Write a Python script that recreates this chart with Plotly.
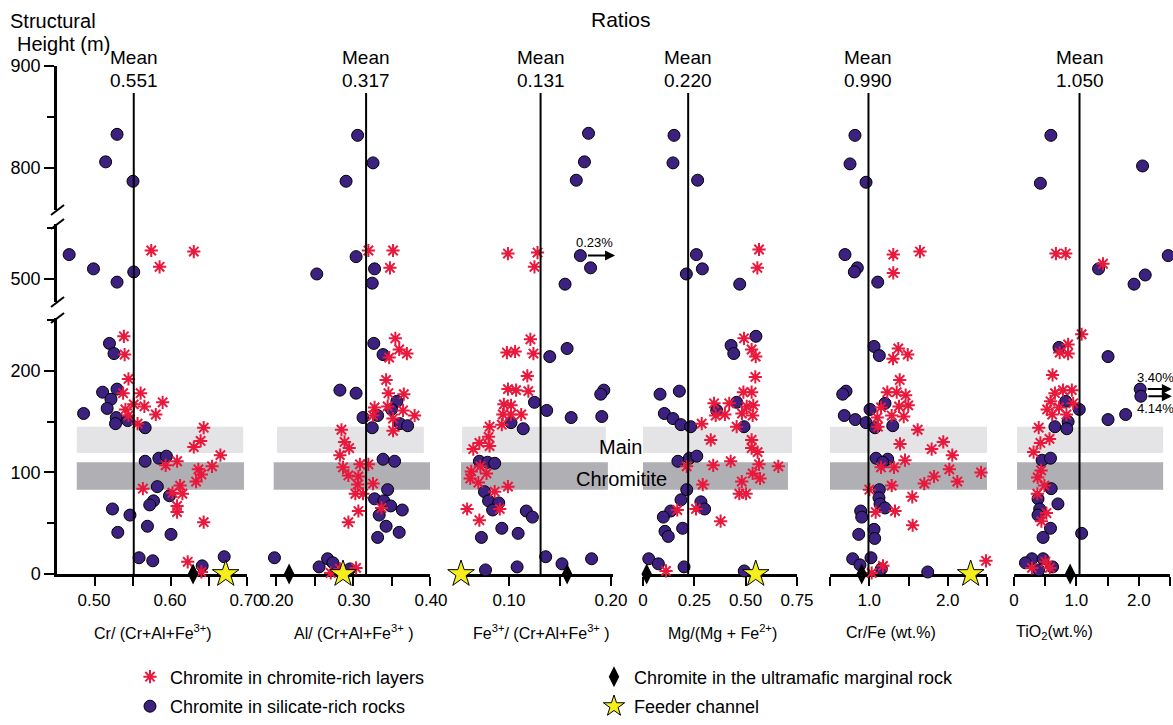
import plotly.graph_objects as go

W, H = 1173, 725
FONT = "Liberation Sans, Arial, Helvetica, sans-serif"
RED = "#e8193c"
PURPLE = "#3c2180"
LIGHT_BAND = "#e4e4e6"
DARK_BAND = "#b0afb4"

# ------------------------------------------------------------------ data
x_titles = ["Cr/ (Cr+Al+Fe<sup>3+</sup>)", "Al/ (Cr+Al+Fe<sup>3+</sup> )",
            "Fe<sup>3+</sup>/ (Cr+Al+Fe<sup>3+</sup> )", "Mg/(Mg + Fe<sup>2+</sup>)",
            "Cr/Fe (wt.%)", "TiO<sub>2</sub>(wt.%)"]
mean_values = [0.551, 0.317, 0.131, 0.220, 0.990, 1.050]
mean_labels = ["0.551", "0.317", "0.131", "0.220", "0.990", "1.050"]

x_tickvals = [[0.50, 0.60, 0.70], [0.20, 0.30, 0.40], [0.10, 0.20], [0, 0.25, 0.50, 0.75],
              [1.0, 2.0], [0, 1.0, 2.0]]
x_ticktext = [["0.50", "0.60", "0.70"], ["0.20", "0.30", "0.40"], ["0.10", "0.20"],
              ["0", "0.25", "0.50", "0.75"], ["1.0", "2.0"], ["0", "1.0", "2.0"]]
x_minorvals = [[0.55, 0.65], [0.25, 0.35], [0.15], [], [0.5, 1.5, 2.5], [0.5, 1.5, 2.5]]

# Panel 1  Cr/(Cr+Al+Fe3+)
p1_circ_x = [0.529, 0.514, 0.550, 0.466, 0.498, 0.529, 0.551,
             0.519, 0.525, 0.510, 0.529, 0.521, 0.516, 0.485, 0.528, 0.527, 0.543, 0.566,
             0.566, 0.584, 0.594, 0.582, 0.598, 0.577, 0.572, 0.523, 0.546, 0.569, 0.530,
             0.600, 0.558, 0.576, 0.670, 0.641]
p1_circ_y = [833, 806, 787, 524, 510, 497, 507,
             227, 217, 179, 182, 172, 163, 158, 154, 148, 151, 144,
             111, 114, 116, 86, 77, 72, 68, 64, 58, 47, 41,
             39, 16, 13, 17, 8]
p1_star_x = [0.574, 0.585, 0.630,
             0.538, 0.539, 0.544, 0.537, 0.560, 0.589, 0.551, 0.565, 0.540, 0.544, 0.580, 0.556,
             0.643, 0.639, 0.630, 0.665, 0.608, 0.593, 0.654, 0.636, 0.640, 0.633,
             0.612, 0.563, 0.615, 0.602, 0.608, 0.608, 0.643, 0.622, 0.640]
p1_star_y = [528, 512, 527,
             234, 216, 192, 178, 178, 169, 167, 165, 162, 156, 157, 148,
             144, 131, 125, 117, 111, 107, 106, 103, 98, 91,
             87, 84, 79, 80, 67, 61, 51, 12, 2]
p1_marginal_x = [0.629]
p1_feeder_x = [0.672]

# Panel 2  Al/(Cr+Al+Fe3+)
p2_circ_x = [0.306, 0.326, 0.291, 0.304, 0.328, 0.253, 0.325,
             0.327, 0.339, 0.283, 0.304, 0.357, 0.350, 0.332, 0.313, 0.361, 0.371, 0.325,
             0.339, 0.354, 0.345, 0.328, 0.340, 0.349, 0.364, 0.334, 0.343, 0.360, 0.332,
             0.198, 0.267, 0.274, 0.256, 0.296]
p2_circ_y = [832, 805, 787, 522, 510, 505, 496,
             227, 216, 181, 178, 170, 162, 156, 154, 148, 146, 144,
             113, 111, 83, 74, 72, 67, 63, 58, 47, 41, 36,
             16, 15, 11, 7, 5]
p2_star_x = [0.320, 0.352, 0.348,
             0.355, 0.360, 0.370, 0.347, 0.343, 0.346, 0.366, 0.328, 0.345, 0.365, 0.326,
             0.352, 0.380, 0.352, 0.285, 0.289, 0.295, 0.283, 0.309, 0.320, 0.287, 0.294,
             0.307, 0.306, 0.326, 0.303, 0.313, 0.337, 0.307, 0.294, 0.304, 0.283, 0.271]
p2_star_y = [528, 528, 511,
             232, 221, 217, 213, 191, 178, 177, 164, 165, 161, 156,
             153, 156, 141, 142, 130, 124, 117, 108, 108, 105, 97,
             96, 88, 89, 79, 79, 65, 62, 51, 6, 5, 1]
p2_marginal_x = [0.217]
p2_feeder_x = [0.287]

# Panel 3  Fe3+/(Cr+Al+Fe3+)
p3_circ_x = [0.178, 0.174, 0.166, 0.170, 0.180, 0.204, 0.155,
             0.157, 0.140, 0.193, 0.190, 0.125, 0.137, 0.161, 0.191, 0.102, 0.114,
             0.071, 0.079, 0.086, 0.076, 0.080, 0.090, 0.084, 0.117, 0.123, 0.093,
             0.109, 0.073, 0.136, 0.181, 0.152, 0.108, 0.077]
p3_circ_y = [834, 806, 788, 523, 511, 504, 495,
             222, 214, 181, 177, 169, 161, 154, 155, 149, 143,
             111, 110, 109, 81, 72, 70, 63, 62, 56, 45,
             40, 36, 17, 15, 10, 7, 4]
p3_star_x = [0.099, 0.128, 0.125,
             0.121, 0.098, 0.106, 0.124, 0.118, 0.099, 0.107, 0.119, 0.095, 0.102,
             0.094, 0.102, 0.112, 0.093, 0.081, 0.080, 0.071, 0.081, 0.065, 0.072,
             0.063, 0.078, 0.062, 0.070, 0.099, 0.086, 0.091, 0.059, 0.071]
p3_star_y = [525, 526, 512,
             231, 218, 219, 217, 195, 182, 181, 180, 167, 166,
             157, 157, 157, 147, 145, 135, 129, 126, 123, 106,
             101, 99, 94, 90, 86, 81, 64, 64, 53]
p3_marginal_x = [0.157]
p3_feeder_x = [0.053]

# Panel 4  Mg/(Mg+Fe2+)
p4_circ_x = [0.151, 0.146, 0.266, 0.260, 0.289, 0.211, 0.471,
             0.550, 0.429, 0.442, 0.083, 0.177, 0.456, 0.359, 0.104, 0.146, 0.185, 0.232,
             0.492, 0.170, 0.226, 0.262, 0.213, 0.185, 0.135, 0.282, 0.300, 0.099, 0.193,
             0.107, 0.123, 0.028, 0.075, 0.200, 0.493]
p4_circ_y = [832, 805, 788, 524, 510, 505, 495,
             234, 225, 217, 177, 180, 169, 161, 158, 153, 147, 145,
             145, 111, 114, 116, 83, 73, 62, 71, 64, 56, 45,
             42, 37, 15, 10, 7, 3]
p4_star_x = [0.565, 0.557,
             0.492, 0.529, 0.549, 0.547, 0.489, 0.529, 0.346, 0.420, 0.505, 0.537,
             0.354, 0.399, 0.482, 0.534, 0.286, 0.456, 0.330, 0.529, 0.529, 0.558,
             0.427, 0.565, 0.342, 0.659, 0.213, 0.534, 0.570, 0.481, 0.291, 0.469,
             0.502, 0.167, 0.258, 0.378, 0.112]
p4_star_y = [529, 511,
             232, 221, 214, 194, 179, 179, 168, 168, 165, 166,
             156, 157, 158, 156, 148, 145, 132, 132, 124, 120,
             111, 108, 107, 106, 106, 99, 94, 91, 88, 79,
             79, 63, 64, 52, 3]
p4_marginal_x = [0.018]
p4_feeder_x = [0.549]

# Panel 5  Cr/Fe (wt.%)
p5_circ_x = [0.818, 0.755, 0.959, 0.691, 0.848, 0.810, 1.108,
             1.061, 1.128, 0.704, 0.662, 1.201, 1.010, 0.682, 0.822, 0.959, 1.073, 1.299,
             1.086, 1.235, 1.171, 1.128, 1.124, 1.137, 1.201, 0.891, 0.904, 1.061, 0.866,
             1.069, 0.789, 1.022, 0.882, 1.154, 1.745]
p5_circ_y = [832, 804, 786, 524, 511, 507, 497,
             224, 215, 180, 177, 168, 162, 156, 152, 149, 144, 146,
             114, 113, 110, 83, 75, 69, 65, 62, 56, 44, 39,
             35, 15, 16, 9, 5, 2]
p5_star_x = [1.306, 1.646, 1.306,
             1.370, 1.490, 1.303, 1.388, 1.230, 1.350, 1.464, 1.150, 1.379, 1.497,
             1.103, 1.286, 1.439, 1.111, 1.617, 1.392, 1.795, 1.943, 2.058, 1.455,
             1.150, 1.315, 2.020, 2.424, 1.825, 2.122, 1.701, 1.286, 1.001, 1.548,
             1.082, 1.328, 1.553, 2.487, 1.175, 1.031]
p5_star_y = [524, 527, 506,
             222, 216, 212, 191, 179, 179, 176, 164, 165, 166,
             154, 156, 155, 145, 142, 128, 123, 130, 117, 112,
             105, 105, 103, 100, 96, 91, 89, 87, 83, 76,
             61, 62, 48, 13, 8, 1]
p5_marginal_x = [0.904]
p5_feeder_x = [2.292]

# Panel 6  TiO2 (wt.%)
p6_circ_x = [0.591, 2.060, 0.423, 2.472, 1.355, 2.103, 1.924,
             0.721, 1.507, 2.022, 2.033, 0.829, 1.046, 1.789, 1.507, 0.867, 0.656, 0.846,
             0.450, 0.585, 0.596, 0.385, 0.704, 0.412, 0.385, 0.585, 0.466, 1.084,
             0.287, 0.466, 0.184, 0.618, 0.396]
p6_circ_y = [832, 802, 785, 523, 510, 504, 495,
             223, 214, 182, 175, 170, 162, 157, 152, 150, 145, 143,
             112, 114, 84, 74, 69, 64, 58, 45, 36, 40,
             15, 15, 11, 7, 4]
p6_star_x = [0.672, 0.829, 1.426,
             1.084, 0.867, 0.732, 0.867, 0.618, 0.656, 0.785, 0.927, 0.585, 0.721,
             0.948, 0.531, 0.612, 0.840, 0.396, 0.423, 0.569, 0.314, 0.434, 0.379,
             0.488, 0.374, 0.520, 0.439, 0.504, 0.287, 0.574]
p6_star_y = [525, 525, 515,
             236, 226, 218, 217, 196, 178, 181, 181, 170, 164,
             168, 162, 157, 157, 144, 129, 133, 120, 102, 95,
             87, 79, 60, 52, 12, 6, 6]
p6_marginal_x = [0.899]
p6_feeder_x = []

# off-scale samples: (panel, x, y, arrow tip x, label, label x, label y)
offscale = [
    (2, 0.170, 523, 0.204, "0.23%", 0.184, 536),
    (5, 2.022, 182, 2.53, "3.40%", 2.26, 193),
    (5, 2.033, 175, 2.53, "4.14%", 2.26, 163),
]

# "Main Chromitite" horizon bands (height in m) and their x extent per panel
band_light_y = [119, 145]
band_dark_y = [83, 110]
band_light_x = [[0.476, 0.695], [0.2013, 0.392], [0.054, 0.195], [0, 0.726], [0.449, 2.5], [0.049, 2.39]]
band_dark_x = [[0.476, 0.696], [0.197, 0.413], [0.053, 0.197], [0, 0.706], [0.436, 2.5], [0.049, 2.39]]

circ_x = [p1_circ_x, p2_circ_x, p3_circ_x, p4_circ_x, p5_circ_x, p6_circ_x]
circ_y = [p1_circ_y, p2_circ_y, p3_circ_y, p4_circ_y, p5_circ_y, p6_circ_y]
star_x = [p1_star_x, p2_star_x, p3_star_x, p4_star_x, p5_star_x, p6_star_x]
star_y = [p1_star_y, p2_star_y, p3_star_y, p4_star_y, p5_star_y, p6_star_y]
marginal_x = [p1_marginal_x, p2_marginal_x, p3_marginal_x, p4_marginal_x, p5_marginal_x, p6_marginal_x]
feeder_x = [p1_feeder_x, p2_feeder_x, p3_feeder_x, p4_feeder_x, p5_feeder_x, p6_feeder_x]

# ------------------------------------------------------------------ layout geometry (pixels)
panel_px = [(57, 247), (270, 430), (460, 613), (643, 797), (830, 987), (1014, 1170)]
x_ranges = [[0.45, 0.70], [0.1922, 0.40], [0.052, 0.202], [0, 0.75], [0.5, 2.5], [0, 2.5]]
label_shift = [-1, 1, 0, 0, 0, 0]
sections = [  # broken height axis: lower, middle, top
    {"range": [0, 252], "px": (318, 574), "ticks": [0, 100, 200], "minor": [50, 150, 250], "keep": (-50, 300)},
    {"range": [477.5, 554], "px": (224, 302), "ticks": [500], "minor": [550], "keep": (300, 700)},
    {"range": [758.8, 900], "px": (66, 210), "ticks": [800, 900], "minor": [850], "keep": (700, 1000)},
]


def px_x(p):
    return p / W


def px_y(p):
    return 1 - p / H


def kid(p, s):
    return p * 3 + s + 1


def sfx(k):
    return "" if k == 1 else str(k)


fig = go.Figure()
layout = {}
shapes = []
annotations = []

legend_done = {"star": False, "circ": False, "marg": False, "feed": False}

for p in range(6):
    kb = kid(p, 0)
    for s, sec in enumerate(sections):
        k = kid(p, s)
        xa = dict(domain=[px_x(panel_px[p][0]), px_x(panel_px[p][1])], range=x_ranges[p],
                  anchor="y" + sfx(k), showgrid=False, zeroline=False, fixedrange=True, automargin=False)
        if s == 0:
            xa.update(showline=True, linewidth=2.5, linecolor="black", ticks="outside", ticklen=9,
                      tickwidth=2, tickcolor="black", tickmode="array", tickvals=x_tickvals[p],
                      ticktext=x_ticktext[p], ticklabelshift=label_shift[p],
                      tickfont=dict(size=17, family=FONT, color="black"), layer="below traces")
            if x_minorvals[p]:
                xa["minor"] = dict(tickmode="array", tickvals=x_minorvals[p], ticks="outside", ticklen=9,
                                   tickwidth=2, tickcolor="black", showgrid=False)
        else:
            xa.update(visible=False, matches="x" + sfx(kb))
        ya = dict(domain=[px_y(sec["px"][1]), px_y(sec["px"][0])], range=sec["range"],
                  anchor="x" + sfx(k), showgrid=False, zeroline=False, fixedrange=True, automargin=False)
        if p == 0:
            ya.update(showline=True, linewidth=2.5, linecolor="black", ticks="outside", ticklen=10,
                      tickwidth=2, tickcolor="black", tickmode="array", tickvals=sec["ticks"],
                      ticktext=[str(v) for v in sec["ticks"]],
                      tickfont=dict(size=18, family=FONT, color="black"),
                      minor=dict(tickmode="array", tickvals=sec["minor"], ticks="outside", ticklen=7,
                                 tickwidth=2, tickcolor="black", showgrid=False),
                      layer="below traces")
        else:
            ya.update(visible=False)
        layout["xaxis" + sfx(k)] = xa
        layout["yaxis" + sfx(k)] = ya

        lo, hi = sec["keep"]
        cx = [x for x, y in zip(circ_x[p], circ_y[p]) if lo <= y <= hi]
        cy = [y for y in circ_y[p] if lo <= y <= hi]
        sx = [x for x, y in zip(star_x[p], star_y[p]) if lo <= y <= hi]
        sy = [y for y in star_y[p] if lo <= y <= hi]
        if cx:
            fig.add_trace(go.Scatter(
                x=cx, y=cy, xaxis="x" + sfx(k), yaxis="y" + sfx(k), mode="markers",
                name="Chromite in silicate-rich rocks", cliponaxis=False,
                marker=dict(symbol="circle", size=12, color=PURPLE, line=dict(color="black", width=1)),
                showlegend=not legend_done["circ"], legend="legend3", hoverinfo="skip"))
            legend_done["circ"] = True
        if sx:
            fig.add_trace(go.Scatter(
                x=sx, y=sy, xaxis="x" + sfx(k), yaxis="y" + sfx(k), mode="markers",
                name="Chromite in chromite-rich layers", cliponaxis=False,
                marker=dict(symbol="asterisk-open", size=11, color=RED, line=dict(color=RED, width=2)),
                showlegend=not legend_done["star"], legend="legend", hoverinfo="skip"))
            legend_done["star"] = True

    # marginal-rock chromite and feeder channel sit at height 0
    if marginal_x[p]:
        fig.add_trace(go.Scatter(
            x=marginal_x[p], y=[0] * len(marginal_x[p]), xaxis="x" + sfx(kb), yaxis="y" + sfx(kb),
            mode="markers", name="Chromite in the ultramafic marginal rock", cliponaxis=False,
            marker=dict(symbol="diamond-tall", size=15, color="black", line=dict(color="black", width=0)),
            showlegend=not legend_done["marg"], legend="legend2", hoverinfo="skip"))
        legend_done["marg"] = True
    if feeder_x[p]:
        fig.add_trace(go.Scatter(
            x=feeder_x[p], y=[0] * len(feeder_x[p]), xaxis="x" + sfx(kb), yaxis="y" + sfx(kb),
            mode="markers", name="Feeder channel", cliponaxis=False,
            marker=dict(symbol="star", size=20, color="#f6ee1c", line=dict(color="black", width=1)),
            showlegend=not legend_done["feed"], legend="legend4", hoverinfo="skip"))
        legend_done["feed"] = True

    # bands
    shapes.append(dict(type="rect", xref="x" + sfx(kb), yref="y" + sfx(kb), layer="below",
                       x0=band_light_x[p][0], x1=band_light_x[p][1], y0=band_light_y[0], y1=band_light_y[1],
                       fillcolor=LIGHT_BAND, line=dict(width=0)))
    shapes.append(dict(type="rect", xref="x" + sfx(kb), yref="y" + sfx(kb), layer="below",
                       x0=band_dark_x[p][0], x1=band_dark_x[p][1], y0=band_dark_y[0], y1=band_dark_y[1],
                       fillcolor=DARK_BAND, line=dict(width=0)))
    # mean line
    shapes.append(dict(type="line", xref="x" + sfx(kb), yref="paper", x0=mean_values[p], x1=mean_values[p],
                       y0=px_y(574), y1=px_y(93), line=dict(color="black", width=2)))
    annotations.append(dict(xref="x" + sfx(kb), yref="paper", x=mean_values[p], y=px_y(58), text="Mean",
                            showarrow=False, xanchor="center", yanchor="middle",
                            font=dict(size=19, family=FONT, color="black")))
    annotations.append(dict(xref="x" + sfx(kb), yref="paper", x=mean_values[p], y=px_y(80),
                            text=mean_labels[p], showarrow=False, xanchor="center", yanchor="middle",
                            font=dict(size=19, family=FONT, color="black")))

# x-axis titles
title_centers = [153, 353, 541, 722, 891, 1054]
for p in range(6):
    annotations.append(dict(xref="paper", yref="paper", x=px_x(title_centers[p]), y=px_y(632),
                            text=x_titles[p], showarrow=False, xanchor="center", yanchor="middle",
                            font=dict(size=16, family=FONT, color="black")))

# off-scale arrows
for (p, x0, y0, xt, lab, lx, ly) in offscale:
    s = 1 if y0 > 300 else 0
    k = kid(p, s)
    xr, yr = "x" + sfx(k), "y" + sfx(k)
    annotations.append(dict(xref=xr, yref=yr, axref=xr, ayref=yr, x=xt, y=y0, ax=x0, ay=y0, text="",
                            showarrow=True, arrowhead=2, arrowsize=1, arrowwidth=2, arrowcolor="black",
                            standoff=0, startstandoff=6))
    annotations.append(dict(xref=xr, yref=yr, x=lx, y=ly, text=lab, showarrow=False,
                            xanchor="center", yanchor="middle", font=dict(size=13, family=FONT, color="black")))

# band labels
annotations.append(dict(xref="paper", yref="y7", x=px_x(620), y=125, text="Main", showarrow=False,
                        xanchor="center", yanchor="middle", font=dict(size=20, family=FONT, color="black")))
annotations.append(dict(xref="paper", yref="y7", x=px_x(621), y=94, text="Chromitite", showarrow=False,
                        xanchor="center", yanchor="middle", font=dict(size=20, family=FONT, color="black")))

# titles
annotations.append(dict(xref="paper", yref="paper", x=px_x(621), y=px_y(19), text="Ratios", showarrow=False,
                        xanchor="center", yanchor="middle", font=dict(size=21, family=FONT, color="black")))
annotations.append(dict(xref="paper", yref="paper", x=px_x(53), y=px_y(21), text="Structural", showarrow=False,
                        xanchor="center", yanchor="middle", font=dict(size=20, family=FONT, color="black")))
annotations.append(dict(xref="paper", yref="paper", x=px_x(63), y=px_y(44), text="Height (m)", showarrow=False,
                        xanchor="center", yanchor="middle", font=dict(size=20, family=FONT, color="black")))

# axis break marks on the height axis
for yb in (210, 224, 302, 318):
    shapes.append(dict(type="line", xref="paper", yref="paper", x0=px_x(51), x1=px_x(64),
                       y0=px_y(yb + 5), y1=px_y(yb - 5), line=dict(color="black", width=2)))

leg_common = dict(xanchor="left", bgcolor="rgba(0,0,0,0)", borderwidth=0,
                  font=dict(size=18, family=FONT, color="black"), itemsizing="trace")
layout["legend"] = dict(x=px_x(130), y=px_y(677), yanchor="middle", **leg_common)
layout["legend2"] = dict(x=px_x(594), y=px_y(677), yanchor="middle", **leg_common)
layout["legend3"] = dict(x=px_x(130), y=0, yanchor="bottom", **leg_common)
layout["legend4"] = dict(x=px_x(594), y=0, yanchor="bottom", **leg_common)

fig.update_layout(
    width=W, height=H, autosize=False, template="none",
    margin=dict(l=0, r=0, t=0, b=0, pad=0),
    paper_bgcolor="white", plot_bgcolor="rgba(0,0,0,0)",
    font=dict(family=FONT, color="black"),
    shapes=shapes, annotations=annotations, **layout)

fig.write_html("out.html")
